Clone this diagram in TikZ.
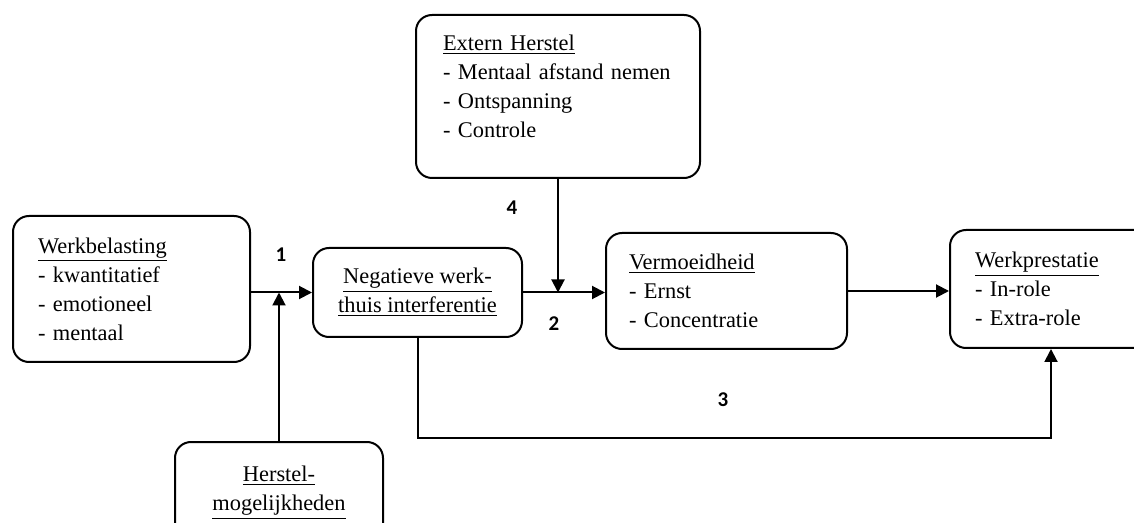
\documentclass[tikz,border=0pt]{standalone}
\usepackage{fontspec}
\setmainfont{Liberation Serif}
\newfontfamily\nummerfont{Carlito}
\usetikzlibrary{arrows.meta}
\usepackage{xcolor}

\begin{document}
\begin{tikzpicture}[x=0.5pt,y=-0.5pt,
        blok/.style={draw, line width=1pt, rounded corners=8pt, inner ysep=0pt,
            font=\fontsize{11.2}{14.5}\selectfont},
        lijst/.style={blok, align=left, inner xsep=12.5pt},
        pijl/.style={line width=1pt, -{Triangle[length=6.5pt,width=6.5pt]}},
        nummer/.style={font=\nummerfont\bfseries\fontsize{10.5}{12}\selectfont}]
    \useasboundingbox (0,0) rectangle (1134,523);

    \node[lijst, text width=93.5pt, minimum height=73pt] (werk) at (131.5,289)
        {\underline{Werkbelasting}\\- kwantitatief\\- emotioneel\\- mentaal};
    \node[blok, align=center, minimum width=104.5pt, minimum height=44.5pt] (neg) at (417.5,292.5)
        {\underline{Negatieve werk-}\\\underline{thuis interferentie}};
    \node[lijst, inner xsep=13.5pt, text width=115pt, minimum height=81.5pt] (extern) at (558,96.5)
        {\underline{Extern Herstel}\\- Mentaal afstand nemen\\- Ontspanning\\- Controle\\[-4pt]\mbox{}};
    \node[lijst, inner xsep=11.5pt, text width=97.5pt, minimum height=58pt] (verm) at (726.5,291)
        {\underline{Vermoeidheid}\\- Ernst\\- Concentratie};
    \node[lijst, text width=76pt, minimum height=59pt] (prest) at (1051,289)
        {\underline{Werkprestatie}\\- In-role\\- Extra-role};
    \node[blok, align=center, minimum width=104pt, minimum height=50.5pt] (herstel) at (279,492.5)
        {\underline{Herstel-}\\\underline{mogelijkheden}};

    \coordinate (m1) at (herstel.north |- neg.west);
    \coordinate (m2) at (extern.south |- neg.east);

    \draw[pijl] (werk.east |- neg.west) -- (neg.west);
    \draw[pijl] (herstel.north) -- (m1);
    \draw[pijl] (neg.east) -- (verm.west |- neg.east);
    \draw[pijl] (extern.south) -- (m2);
    \draw[pijl] (verm.east) -- (prest.west |- verm.east);
    \draw[pijl] (neg.south) -- ++(0,100) -| (prest.south);

    \node[nummer] (n1) at (281,255) {1};
    \node[nummer] (n2) at (554,324) {2};
    \node[nummer] (n3) at (723,400) {3};
    \node[nummer] (n4) at (512,208) {4};
\end{tikzpicture}
\end{document}
